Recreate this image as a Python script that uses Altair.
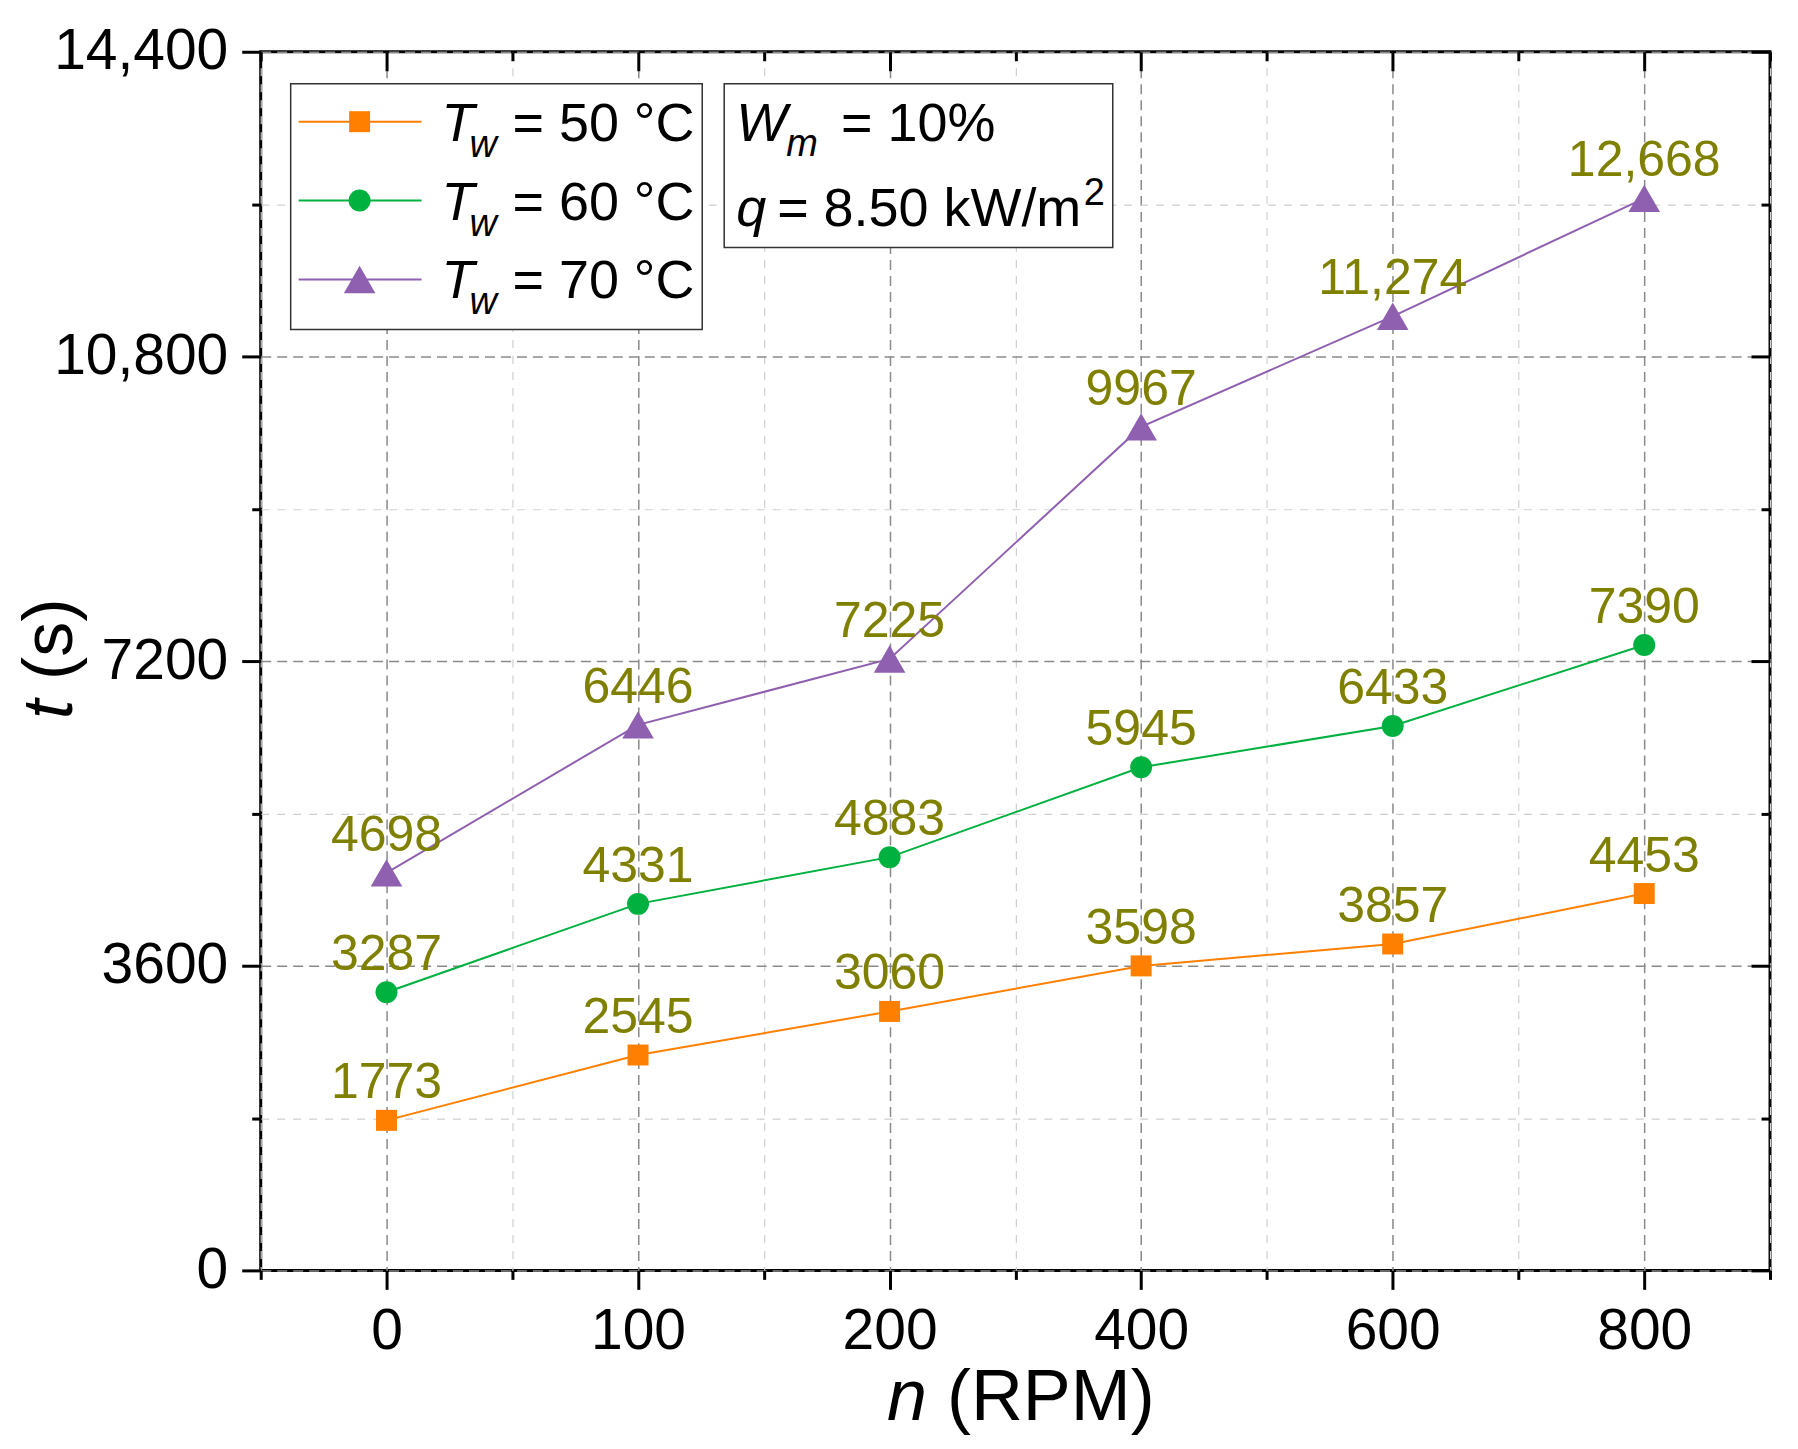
import json
import altair as alt
import pandas as pd

# ---data
rpm = [0, 100, 200, 400, 600, 800]
t_50 = [1773, 2545, 3060, 3598, 3857, 4453]
t_60 = [3287, 4331, 4883, 5945, 6433, 7390]
t_70 = [4698, 6446, 7225, 9967, 11274, 12668]
series = ['50', '60', '70']
colors = ['#ff8000', '#00b140', '#8f5fb0']
shapes = ['square', 'circle', 'triangle-up']
sizes = [441, 484, 1000]
y_major = [0, 3600, 7200, 10800, 14400]
y_minor = [1800, 5400, 9000, 12600]

rows = []
for s, vals in zip(series, [t_50, t_60, t_70]):
    for i, (n, t) in enumerate(zip(rpm, vals)):
        rows.append({'pos': i, 'rpm': n, 't': t, 'tw': s,
                     'lab': f'{t:,}' if t >= 10000 else str(t)})
df = pd.DataFrame(rows)

x_major = list(range(len(rpm)))
x_minor = [i - 0.5 for i in range(len(rpm) + 1)]

FONT = 'Liberation Sans'
OLIVE = '#808000'

#-axes: major/minor, outside on bottom/left, inside on top/right
common = dict(domain=False, tickColor='black', tickWidth=3, labelFont=FONT,
              labelFontSize=57, labelColor='black', title=None)
x_labels = json.dumps([str(v) for v in rpm])
ax_bottom = alt.Axis(orient='bottom', values=x_major, labelExpr=f'{x_labels}[datum.value]',
                     tickSize=19, labelPadding=14, grid=True, gridColor='#8a8a8a',
                     gridDash=[10, 6], gridWidth=1.5, **common)
ax_bottom_minor = alt.Axis(orient='bottom', values=x_minor, labels=False, tickSize=9,
                           grid=True, gridColor='#d0d0d0', gridDash=[8, 8], gridWidth=1.2, **common)
ax_top = alt.Axis(orient='top', values=x_major, labels=False, tickSize=19, offset=-19,
                  grid=False, **common)
ax_top_minor = alt.Axis(orient='top', values=x_minor, labels=False, tickSize=9, offset=-9,
                        grid=False, **common)

ax_left = alt.Axis(orient='left', values=y_major,
                   labelExpr="datum.value >= 10000 ? format(datum.value, ',') : format(datum.value, 'd')",
                   tickSize=19, labelPadding=14, grid=True, gridColor='#8a8a8a',
                   gridDash=[10, 6], gridWidth=1.5, **common)
ax_left_minor = alt.Axis(orient='left', values=y_minor, labels=False, tickSize=9, grid=True,
                         gridColor='#d0d0d0', gridDash=[8, 8], gridWidth=1.2, **common)
ax_right = alt.Axis(orient='right', values=y_major, labels=False, tickSize=19, offset=-19,
                    grid=False, **common)
ax_right_minor = alt.Axis(orient='right', values=y_minor, labels=False, tickSize=9, offset=-9,
                          grid=False, **common)

x_scale = alt.Scale(domain=[-0.5, len(rpm) - 0.5], nice=False, zero=False)
y_scale = alt.Scale(domain=[0, 14400], nice=False)
color = alt.Color('tw:N', scale=alt.Scale(domain=series, range=colors), legend=None)

base = alt.Chart(df)

lines = base.mark_line(strokeWidth=2).encode(
    x=alt.X('pos:Q', scale=x_scale, axis=ax_bottom),
    y=alt.Y('t:Q', scale=y_scale, axis=ax_left),
    color=color,
    detail='tw:N'
)

#-one marker layer per series (fixed shape and size); first one carries the minor axes
point_layers = []
for j, s in enumerate(series):
    point_layers.append(base.transform_filter(alt.datum.tw == s).mark_point(
        filled=True, opacity=1, shape=shapes[j], size=sizes[j], color=colors[j]
    ).encode(
        x=alt.X('pos:Q', scale=x_scale, axis=ax_bottom_minor if j == 0 else None),
        y=alt.Y('t:Q', scale=y_scale, axis=ax_left_minor if j == 0 else None)
    ))

labels = base.mark_text(font=FONT, fontSize=50, color=OLIVE, baseline='alphabetic',
                        align='center', dy=-22).encode(
    x=alt.X('pos:Q', scale=x_scale, axis=ax_top),
    y=alt.Y('t:Q', scale=y_scale, axis=ax_right),
    text='lab:N'
)

ghost = base.mark_point(opacity=0).encode(
    x=alt.X('pos:Q', scale=x_scale, axis=ax_top_minor),
    y=alt.Y('t:Q', scale=y_scale, axis=ax_right_minor)
)

#-legend and note boxes drawn by hand (subscripts need separate text)
one = pd.DataFrame({'k': [0]})
deco = []
deco.append(alt.Chart(one).mark_rect(fill='white', stroke='#333333', strokeWidth=1.5).encode(
    x=alt.value(30), x2=alt.value(442), y=alt.value(32), y2=alt.value(278)))
deco.append(alt.Chart(one).mark_rect(fill='white', stroke='#333333', strokeWidth=1.5).encode(
    x=alt.value(464), x2=alt.value(853), y=alt.value(32), y2=alt.value(196)))

def txt(s, x, y, fs=54, style='normal', angle=0, align='left'):
    return alt.Chart(one).mark_text(text=s, font=FONT, fontSize=fs, fontStyle=style,
                                    align=align, baseline='alphabetic', angle=angle,
                                    color='black').encode(x=alt.value(x), y=alt.value(y))

for j, s in enumerate(series):
    yc = 70 + 79 * j
    deco.append(alt.Chart(one).mark_rule(color=colors[j], strokeWidth=2).encode(
        x=alt.value(38), x2=alt.value(161), y=alt.value(yc)))
    deco.append(alt.Chart(one).mark_point(filled=True, opacity=1, shape=shapes[j],
                                          size=sizes[j], color=colors[j]).encode(
        x=alt.value(99), y=alt.value(yc)))
    deco.append(txt('T', 181, yc + 19, style='italic'))
    deco.append(txt('w', 209, yc + 35, fs=38, style='italic'))
    deco.append(txt(f'= {s} °C', 252, yc + 19))

deco.append(txt('W', 476, 89, style='italic'))
deco.append(txt('m', 526, 104, fs=38, style='italic'))
deco.append(txt('= 10%', 581, 89))
deco.append(txt('q', 476, 174, style='italic'))
deco.append(txt('= 8.50 kW/m', 517, 174))
deco.append(txt('2', 824, 153, fs=38))

#-axis titles with italic symbols (svg drops leading spaces, so offset by hand)
deco.append(txt('n', 627, 1370, fs=72, style='italic'))
deco.append(txt('(RPM)', 687, 1370, fs=72))
deco.append(txt('t', -189, 668, fs=70, style='italic', angle=270))
deco.append(txt('(s)', -189, 629, fs=70, angle=270))

chart = alt.layer(lines, *point_layers, labels, ghost, *deco).resolve_axis(
    x='independent', y='independent'
).properties(
    width=1511, height=1220,
    autosize=alt.AutoSizeParams(type='none'),
    padding={'left': 253, 'top': 43, 'right': 20, 'bottom': 170}
).configure_view(stroke='black', strokeWidth=3)

chart.save('out.html', embed_options={'renderer': 'svg', 'actions': False})
